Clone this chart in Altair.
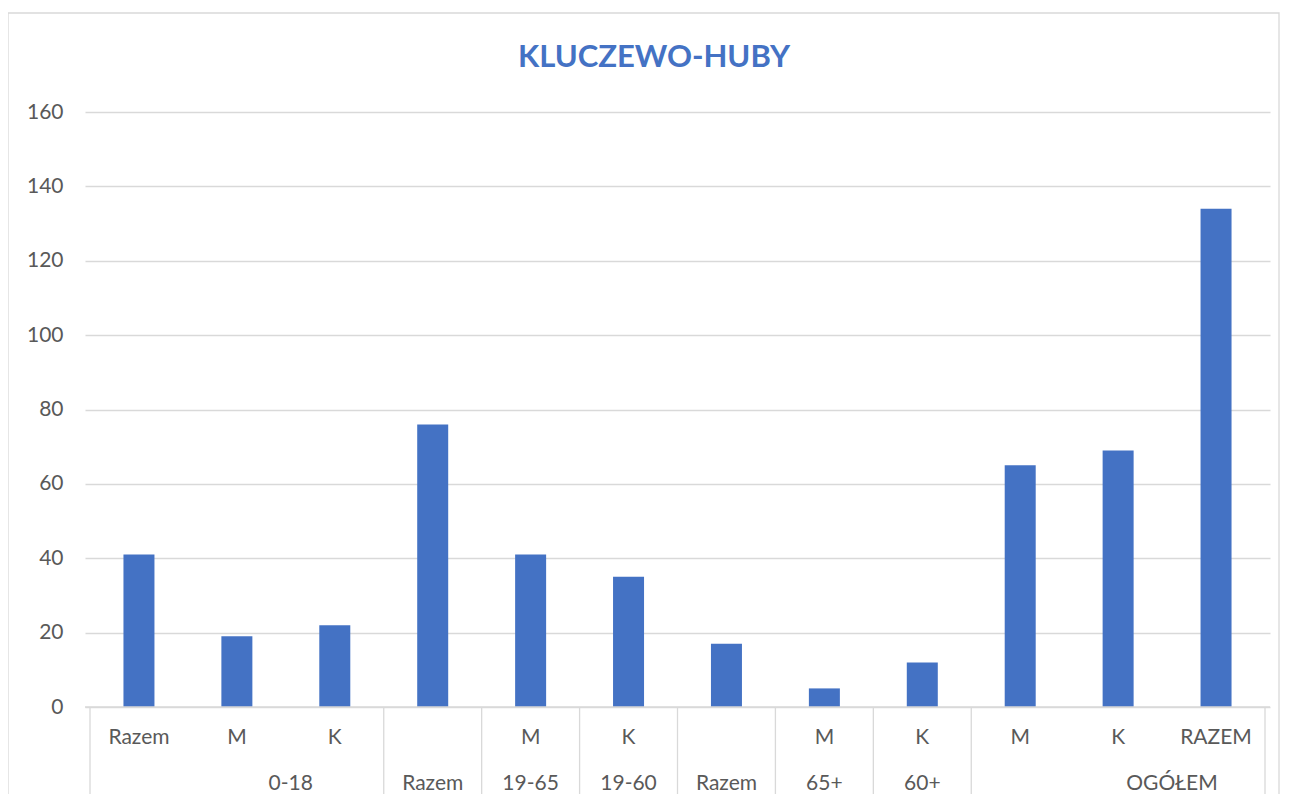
import altair as alt
import pandas as pd

# ---- data ----
title_text = ["KLUCZEWO-HUBY"]
top_labels = ["Razem", "M", "K", "", "M", "K", "", "M", "K", "M", "K", "RAZEM"]
values = [41, 19, 22, 76, 41, 35, 17, 5, 12, 65, 69, 134]
group_labels = ["0-18", "Razem", "19-65", "19-60", "Razem", "65+", "60+", "OGÓŁEM"]
group_sizes = [3, 1, 1, 1, 1, 1, 1, 3]
y_ticks = [0, 20, 40, 60, 80, 100, 120, 140, 160]

FONT = "Lato"
TXT = "#595959"
GRID = "#d9d9d9"
BLUE = "#4472C4"

W, H = 1185, 595

bars_df = pd.DataFrame({
    "pos": [i + 0.5 for i in range(len(values))],
    "label": top_labels,
    "value": values,
})

# group boundaries and label positions
bounds = [0]
for s in group_sizes:
    bounds.append(bounds[-1] + s)
grp_pos = []
for k, s in enumerate(group_sizes):
    c = (bounds[k] + bounds[k + 1]) / 2
    if s > 1:
        c += 0.55  # Excel places wide-group labels right of centre
    grp_pos.append(c)
grp_df = pd.DataFrame({"pos": grp_pos, "label": group_labels})
sep_df = pd.DataFrame({"b": bounds})

xs = alt.Scale(domain=[0, 12], nice=False, zero=False)

bars = alt.Chart(bars_df).mark_bar(color=BLUE, width=31).encode(
    x=alt.X("pos:Q", scale=xs, axis=None),
    y=alt.Y("value:Q",
            scale=alt.Scale(domain=[0, 160], nice=False),
            axis=alt.Axis(values=y_ticks, title=None, domain=False, ticks=False,
                          grid=True, gridColor=GRID, gridWidth=1.3,
                          labelFont=FONT, labelFontSize=21, labelColor=TXT,
                          labelPadding=22)),
)

seps = alt.Chart(sep_df).mark_rule(color=GRID, strokeWidth=1.3).encode(
    x=alt.X("b:Q", scale=xs, axis=None),
    y=alt.value(H),
    y2=alt.value(H + 100),
)

base_line = alt.Chart(sep_df.head(1)).mark_rule(color=GRID, strokeWidth=1.3).encode(
    x=alt.value(0), x2=alt.value(W), y=alt.value(H),
)

top_txt = alt.Chart(bars_df).mark_text(
    font=FONT, fontSize=21, color=TXT, baseline="middle", align="center"
).encode(
    x=alt.X("pos:Q", scale=xs, axis=None),
    y=alt.value(H + 31),
    text="label:N",
)

grp_txt = alt.Chart(grp_df).mark_text(
    font=FONT, fontSize=21, color=TXT, baseline="middle", align="center"
).encode(
    x=alt.X("pos:Q", scale=xs, axis=None),
    y=alt.value(H + 77),
    text="label:N",
)

title = alt.Chart(pd.DataFrame({"t": title_text})).mark_text(
    font=FONT, fontSize=31, fontWeight="bold", color=BLUE,
    baseline="middle", align="center"
).encode(
    x=alt.value(569),
    y=alt.value(-54),
    text="t:N",
)

border = alt.Chart(pd.DataFrame({"t": title_text})).mark_rect(
    fill="transparent", stroke=GRID, strokeWidth=1.3
).encode(
    x=alt.value(-77), x2=alt.value(W + 9),
    y=alt.value(-99), y2=alt.value(H + 200),
)

chart = alt.layer(border, bars, base_line, seps, top_txt, grp_txt, title).properties(
    width=W,
    height=H,
    padding={"left": 77, "top": 104, "right": 10, "bottom": 87},
    autosize=alt.AutoSizeParams(type="none"),
).configure_view(stroke=None)

chart.save("out.html", embed_options={"renderer": "svg", "actions": False})
